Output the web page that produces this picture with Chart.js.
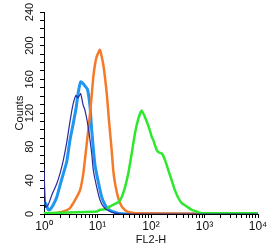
<!DOCTYPE html>
<html>
<head>
<meta charset="utf-8">
<script src="https://cdn.jsdelivr.net/npm/chart.js@4"></script>
<style>
  html, body { margin: 0; padding: 0; background: #fff; }
  #wrap { width: 275px; height: 250px; }
</style>
</head>
<body>
<div id="wrap"><canvas id="hist"></canvas></div>
<script>
// FL2-H channel values (log axis) and counts
const isoX = [1.0, 1.07, 1.2, 1.39, 1.73, 1.99, 2.3, 2.66, 3.06, 3.48, 3.96, 4.32, 4.85, 5.36, 5.84, 6.73, 7.24, 7.79, 8.35, 9.66, 11.1, 12.8, 14.9, 17.1, 21.2, 26.3, 10000];
const isoY = [54, 8, 11, 22, 36, 48, 64, 85, 110, 130, 141, 138, 143, 130, 123, 103, 88, 72, 52, 32, 17, 9, 5, 3, 1, 0, 0];

const ctrlX = [1.0, 1.09, 1.2, 1.29, 1.49, 1.73, 1.99, 2.3, 2.66, 3.06, 3.53, 3.96, 4.38, 4.85, 5.36, 5.84, 6.5, 7.24, 7.79, 8.35, 8.98, 10.35, 12.0, 13.8, 15.7, 18.7, 24.2, 32.7, 10000];
const ctrlY = [14, 12, 5, 5, 11, 20, 34, 48, 62, 88, 108, 125, 145, 157, 155, 152, 148, 128, 100, 78, 58, 38, 20, 11, 6, 3, 1, 0, 0];

const lowX = [1.0, 1.61, 2.3, 3.06, 3.53, 4.08, 4.71, 5.43, 6.1, 6.73, 7.24, 7.79, 8.35, 9.0, 9.66, 11.1, 12.8, 14.9, 16.6, 18.4, 19.7, 21.2, 24.2, 28.3, 35.2, 50.2, 10000];
const lowY = [1, 1, 3, 7, 13, 20, 28, 48, 76, 100, 119, 141, 163, 178, 187, 195, 178, 143, 107, 76, 52, 37, 20, 9, 3, 1, 0];

const highX = [1.0, 4.08, 9.66, 11.1, 14.9, 17.1, 21.2, 24.5, 28.3, 32.7, 37.6, 43.6, 50.2, 57.9, 67.0, 77.2, 89.1, 103, 110, 128, 141, 159, 183, 211, 244, 281, 324, 375, 465, 577, 715, 887, 10000];
const highY = [1, 2, 3, 5, 6, 9, 12, 14, 20, 32, 48, 72, 96, 113, 123, 115, 105, 92, 88, 76, 73, 72, 64, 52, 40, 28, 19, 13, 9, 5, 3, 1, 1];

const xTickValues = [1, 2, 3, 4, 5, 6, 7, 8, 9, 10, 20, 30, 40, 50, 60, 70, 80, 90, 100, 200, 300, 400, 500, 600, 700, 800, 900, 1000, 2000, 3000, 4000, 5000, 6000, 7000, 8000, 9000, 10000];
const xDecades = [1, 10, 100, 1000, 10000];
const xDecadeLabels = ["10\u2070", "10\u00b9", "10\u00b2", "10\u00b3", "10\u2074"];
const yLabelValues = [0, 40, 80, 120, 160, 200, 240];

function pairs(xs, ys) {
  return xs.map((x, i) => ({ x: x, y: ys[i] }));
}

function line(label, xs, ys, color, width) {
  return {
    label: label,
    data: pairs(xs, ys),
    borderColor: color,
    borderWidth: width,
    fill: false,
    tension: 0.15,
    pointRadius: 0,
  };
}

const ctx = document.getElementById("hist").getContext("2d");
new Chart(ctx, {
  type: "line",
  data: {
    datasets: [
      line("Isotype", isoX, isoY, "#2a2a9c", 1.2),
      line("High", highX, highY, "#2ee82e", 2.5),
      line("Low", lowX, lowY, "#f47a2a", 2.5),
      line("Control", ctrlX, ctrlY, "#1f96f0", 3),
    ],
  },
  options: {
    animation: false,
    responsive: true,
    maintainAspectRatio: false,
    layout: { padding: { top: 12, right: 17, left: 0, bottom: 0 } },
    plugins: {
      legend: { display: false },
      tooltip: { enabled: false },
    },
    scales: {
      x: {
        type: "logarithmic",
        min: 1,
        max: 10000,
        afterBuildTicks: (scale) => {
          scale.ticks = xTickValues.map((v) => ({ value: v }));
        },
        afterFit: (scale) => {
          scale.height = 36;
        },
        grid: { drawOnChartArea: false, tickLength: 4, color: "#000" },
        border: { display: true, color: "#000", width: 1 },
        ticks: {
          autoSkip: false,
          maxRotation: 0,
          padding: 1,
          color: "#111",
          font: { family: "Liberation Sans", size: 12 },
          callback: (value) => {
            const i = xDecades.indexOf(value);
            return i >= 0 ? xDecadeLabels[i] : "";
          },
        },
        title: {
          display: true,
          text: "FL2-H",
          color: "#111",
          padding: { top: 0, bottom: 3 },
          font: { family: "Liberation Sans", size: 11 },
        },
      },
      y: {
        min: 0,
        max: 240,
        afterFit: (scale) => {
          scale.width = 44;
        },
        grid: { drawOnChartArea: false, tickLength: 4, color: "#000" },
        border: { display: true, color: "#000", width: 1 },
        ticks: {
          stepSize: 10,
          autoSkip: false,
          minRotation: 90,
          maxRotation: 90,
          crossAlign: "center",
          padding: 1,
          color: "#111",
          font: { family: "Liberation Sans", size: 11 },
          callback: (value) => (yLabelValues.includes(value) ? String(value) : ""),
        },
        title: {
          display: true,
          text: "Counts",
          color: "#111",
          padding: { top: 13, bottom: 0 },
          font: { family: "Liberation Sans", size: 11 },
        },
      },
    },
  },
});
</script>
</body>
</html>
